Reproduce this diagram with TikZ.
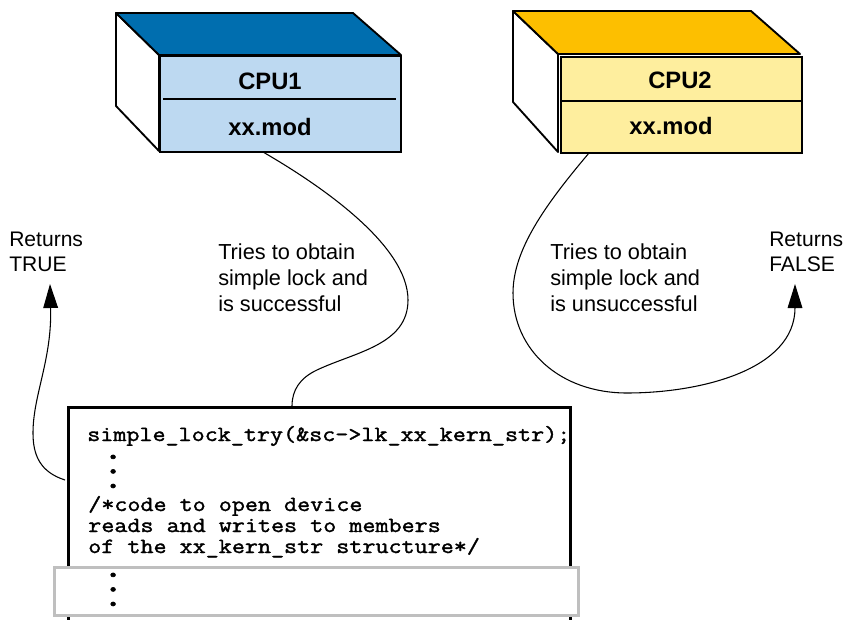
\documentclass[tikz,border=0pt]{standalone}
\usepackage{fontspec}
\setmainfont{Liberation Sans}
\setmonofont[FakeStretch=1.17,FakeBold=1.6]{Latin Modern Mono}
\usetikzlibrary{arrows.meta}
\definecolor{bluetop}{HTML}{006EAF}
\definecolor{bluefront}{HTML}{BDD9F1}
\definecolor{yellowtop}{HTML}{FDBF00}
\definecolor{yellowfront}{HTML}{FEEE9E}
\definecolor{bargrey}{HTML}{BFBFBF}
\tikzset{
  px/.style={x=0.75pt,y=-0.75pt},
  edge/.style={draw=black,line width=1.4pt,line join=round},
  sideface/.style={edge,fill=white},
  frontface/.style={draw=black,line width=1.6pt,inner sep=0pt,anchor=north west,minimum width=181pt,minimum height=72pt},
  divider/.style={draw=black,line width=2.2pt},
  title/.style={font=\fontsize{17.8}{20}\selectfont\bfseries,inner sep=0pt},
  label/.style={font=\fontsize{16.3}{19.3}\selectfont,inner sep=0pt,anchor=base west,align=left},
  retlabel/.style={font=\fontsize{15.8}{18.5}\selectfont,inner sep=0pt,anchor=base west,align=left},
  code/.style={font=\ttfamily\fontsize{16.25}{15.75}\selectfont,inner sep=0pt,anchor=base west,align=left},
  dots/.style={font=\ttfamily\fontsize{27}{10.9}\selectfont,inner sep=0pt,anchor=base west,align=left},
  curve/.style={draw=black,line width=0.8pt},
  tip/.style={-{Triangle[length=18pt,width=11pt]}},
  panel/.style={draw=black,line width=2.25pt},
  greybar/.style={draw=bargrey,line width=2.6pt,fill=white}
}
\begin{document}
\begin{tikzpicture}[px]
\useasboundingbox (0,0) rectangle (845,620);
% CPU1
\draw[sideface] (116,13) -- (159,55) -- (159,151) -- (116,106) -- cycle;
\draw[edge,fill=bluetop] (116,13) -- (353,13) -- (401,55) -- (159,55) -- cycle;
\node[frontface,fill=bluefront] (cpua) at (159,55) {};
\draw[divider] (163,99) -- (396,99);
\node[title] (cpuaname) at (270,81) {CPU1};
\node[title] (cpuamod) at (270,127) {xx.mod};
% CPU2
\draw[sideface] (513,11) -- (558,54) -- (558,152) -- (513,102) -- cycle;
\draw[edge,fill=yellowtop] (513,11) -- (751,11) -- (800,54) -- (558,54) -- cycle;
\node[frontface,fill=yellowfront] (cpub) at (560,56) {};
\draw[divider] (561,101) -- (801,101);
\node[title] (cpubname) at (680,80) {CPU2};
\node[title] (cpubmod) at (671,126) {xx.mod};
% labels
\node[retlabel] (rtrue) at (9,271) {Returns\\TRUE};
\node[retlabel] (rfalse) at (769,271) {Returns\\FALSE};
\node[label] (tryok) at (218,311) {Tries to obtain\\simple lock and\\is successful};
\node[label] (tryno) at (550,311) {Tries to obtain\\simple lock and\\is unsuccessful};
% code panel
\coordinate (pbl) at (68.5,620);
\coordinate (ptl) at (68.5,407.5);
\coordinate (ptr) at (570.5,407.5);
\coordinate (pbr) at (570.5,620);
\draw[panel] (pbl) -- (ptl) -- (ptr) -- (pbr);
\node[code] (c1) at (87,441) {simple\_lock\_try(\&sc->lk\_xx\_kern\_str);};
\node[dots] (d1) at (102,488) {.\\.\\.};
\node[code] (c2) at (88,553) {/*code to open device\\reads and writes to members\\of the xx\_kern\_str structure*/};
\node[greybar,minimum width=393pt,minimum height=36pt,inner sep=0pt,anchor=north west] (bar) at (53,566) {};
\node[dots] (d4) at (102,606) {.\\.\\.};
% connectors
\coordinate (lefttop) at (50,284);
\coordinate (leftbot) at (65,480);
\coordinate (rtop) at (795,284);
\coordinate (cpuout) at (263,152);
\coordinate (cpubout) at (589,153);
\coordinate (pin) at (292,406);
\draw[curve] (cpuout) .. controls (320,185) and (408,245) .. (408,300) .. controls (408,345) and (355,352) .. (317,370) .. controls (300,378) and (292,390) .. (pin);
\draw[curve,tip] (cpubout) .. controls (545,205) and (513,250) .. (513,293) .. controls (513,350) and (560,393) .. (627,393) .. controls (700,393) and (795,370) .. (rtop);
\draw[curve,tip] (leftbot) .. controls (40,472) and (33,455) .. (33,433) .. controls (33,395) and (52,360) .. (lefttop);
\end{tikzpicture}
\end{document}
